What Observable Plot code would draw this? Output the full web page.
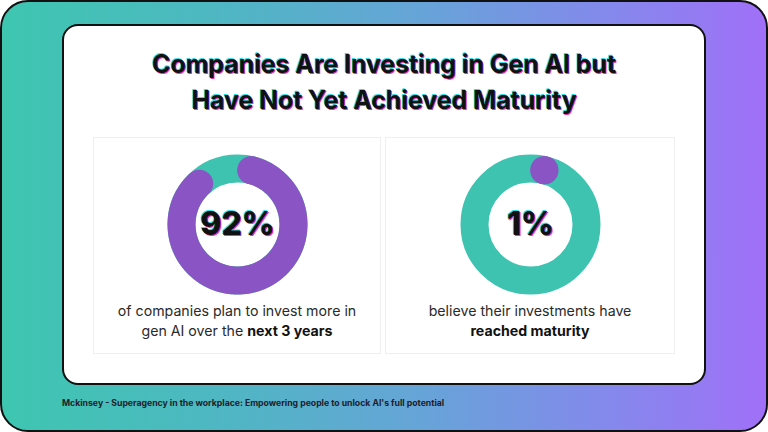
<!DOCTYPE html>
<html>
<head>
<meta charset="utf-8">
<script src="https://cdn.jsdelivr.net/npm/d3@7"></script>
<script src="https://cdn.jsdelivr.net/npm/@observablehq/plot@0.6"></script>
<style>
  html, body { margin: 0; padding: 0; width: 768px; height: 432px; overflow: hidden; background: #fff; }
  body { font-family: Inter, "Noto Sans", sans-serif; position: relative; }
  #frame { position: absolute; left: 0; top: 0; width: 768px; height: 432px; box-sizing: border-box;
    border: 2px solid #111; border-radius: 28px;
    background: linear-gradient(90deg, #3ec6b0 0%, #4cb9c0 25%, #66a4d8 55%, #8588ec 80%, #a070f8 100%); }
  #card { position: absolute; left: 62px; top: 24px; width: 644px; height: 361px; box-sizing: border-box;
    border: 2px solid #111; border-radius: 16px; background: #fff; }
  #title { position: absolute; left: 0; top: 46px; width: 768px; text-align: center;
    font-size: 25px; line-height: 36px; font-weight: 700; color: #111; letter-spacing: -0.1px;
    text-shadow: -1px -1px 0 #30e0ee, 1px 1.2px 0 #f030b0; }
  .panel { position: absolute; top: 137px; height: 217px; box-sizing: border-box; border: 1px solid #efefef; }
  .panel .plot { position: absolute; top: 11px; left: 50%; transform: translateX(-50%); }
  .panel .plot text { text-shadow: -1px -1px 0 #30e0ee, 1.2px 1.2px 0 #f030b0; }
  .panel .cap { position: absolute; left: 0; width: 100%; top: 163px; text-align: center;
    font-size: 14.2px; line-height: 20px; color: #2a2a2a; }
  .panel .cap b { font-weight: 700; color: #111; }
  #footer { position: absolute; left: 62px; top: 398px; font-size: 8.7px; font-weight: 700; color: #1d1d2b; }
</style>
</head>
<body>
<div id="frame"></div>
<div id="card"></div>
<div id="title"></div>
<div id="panels"></div>
<div id="footer"></div>
<script>
// ---- data ----
const titleLines = ["Companies Are Investing in Gen AI but", "Have Not Yet Achieved Maturity"];
const percents = [92, 1];
const percentLabels = ["92%", "1%"];
const captionLine1 = ["of companies plan to invest more in", "believe their investments have"];
const captionLine2Plain = ["gen AI over the ", ""];
const captionLine2Bold = ["next 3 years", "reached maturity"];
const footerText = "Mckinsey - Superagency in the workplace: Empowering people to unlock AI's full potential";

// ---- style ----
const ringColor = "#3ec3b1";
const arcColor = "#8a54c4";
const R = 56, W = 28, S = 150;
const panelBoxes = [{left: 93, width: 288}, {left: 385, width: 290}];

document.getElementById("title").innerHTML = titleLines.join("<br>");
document.getElementById("footer").textContent = footerText;

function arcPoints(p) {
  const cap = (W / 2) / R;
  const a0 = cap;
  const a1 = Math.max(a0, (p / 100) * 2 * Math.PI - cap);
  const n = Math.max(2, Math.ceil((a1 - a0) / 0.01));
  return d3.range(n + 1).map(i => {
    const a = a0 + (a1 - a0) * i / n;
    return {x: R * Math.sin(a), y: R * Math.cos(a)};
  });
}

const panels = document.getElementById("panels");
percents.forEach((p, i) => {
  const div = document.createElement("div");
  div.className = "panel";
  div.style.left = panelBoxes[i].left + "px";
  div.style.width = panelBoxes[i].width + "px";
  const pts = arcPoints(p);
  const center = [{x: 0, y: 0, label: percentLabels[i]}];
  const chart = Plot.plot({
    width: S, height: S, margin: 0,
    x: {domain: [-S / 2, S / 2], axis: null},
    y: {domain: [-S / 2, S / 2], axis: null},
    style: {background: "transparent", overflow: "visible"},
    marks: [
      Plot.dot(center, {x: "x", y: "y", r: R, stroke: ringColor, strokeWidth: W, fill: "none"}),
      Plot.line(pts, {x: "x", y: "y", stroke: arcColor, strokeWidth: W, strokeLinecap: "round", curve: "linear"}),
      Plot.dot([pts[0]], {x: "x", y: "y", r: W / 2, fill: arcColor, stroke: "none"}),
      Plot.text(center, {x: "x", y: "y", text: "label", fill: "#111",
        fontSize: 32, fontWeight: 800, fontFamily: "Inter, sans-serif"})
    ]
  });
  chart.classList.add("plot");
  div.appendChild(chart);
  const cap = document.createElement("div");
  cap.className = "cap";
  cap.innerHTML = captionLine1[i] + "<br>" + captionLine2Plain[i] + "<b>" + captionLine2Bold[i] + "</b>";
  div.appendChild(cap);
  panels.appendChild(div);
});
</script>
</body>
</html>
